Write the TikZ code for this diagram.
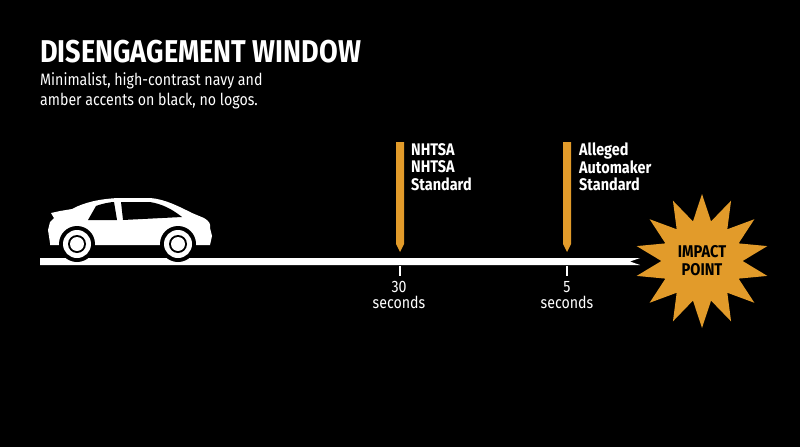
\documentclass[tikz,border=0pt]{standalone}
\usepackage{fontspec}
\setmainfont{Fira Sans}[FakeStretch=0.86]
\usetikzlibrary{shapes.geometric}
\definecolor{amber}{HTML}{E29B2A}
\begin{document}
\begin{tikzpicture}[x=1pt,y=-1pt,
  lbl/.style={font=\bfseries\fontsize{16.8}{17.5}\selectfont,text=white,align=left,anchor=north west,inner sep=0pt},
  sec/.style={font=\fontsize{16.5}{16}\selectfont,text=white,align=center,anchor=north,inner sep=0pt},
  bar/.style={fill=amber}]
\fill[black] (0,0) rectangle (800,447);
\useasboundingbox (0,0) rectangle (800,447);
\node[anchor=west,inner sep=0pt,text=white,font=\bfseries\fontsize{31.5}{33}\selectfont] (title) at (40,52) {DISENGAGEMENT WINDOW};
\node[anchor=north west,inner sep=0pt,text=white,align=left,font=\fontsize{16.5}{20}\selectfont] (sub) at (40,72) {Minimalist, high-contrast navy and\\amber accents on black, no logos.};
% timeline
\fill[white] (40,258) -- (640,258) -- (630,261.5) -- (640,265) -- (40,265) -- cycle;
% car
\fill[white] (50,243) -- (48,230) -- (50,222) -- (54,218) -- (51,213) -- (60,211) -- (72,209)
  .. controls (85,202) and (100,199) .. (118,198) -- (150,198)
  .. controls (165,199) and (180,207) .. (192,213) -- (204,218) .. controls (209,221) and (211,224) .. (210,228)
  -- (212,236) -- (210,245) -- (50,245) -- cycle;
\fill[black] (77,244) circle (18) (178,244) circle (18);
\fill[black] (88,220) -- (96,206) .. controls (104,203) and (112,202) .. (114,202) -- (117,220) -- cycle;
\fill[black] (121,202) -- (150,202) .. controls (162,204) and (172,209) .. (182,217) -- (123,220) -- cycle;
\foreach \cx in {77,178}{
  \fill[white] (\cx,244) circle (14);
  \fill[black] (\cx,244) circle (9);
  \fill[white] (\cx,244) circle (7);}
% markers
\foreach \mx in {400,567}{
  \fill[amber] (\mx-4,142) -- (\mx+4,142) -- (\mx+4,244) -- (\mx,252) -- (\mx-4,244) -- cycle;
  \draw[white,line width=1.4] (\mx,266) -- (\mx,276);}
\node[lbl] (nhtsa) at (411,143) {NHTSA\\NHTSA\\Standard};
\node[lbl] (auto) at (579,143) {Alleged\\Automaker\\Standard};
\node[sec] (s30) at (399,281) {30\\seconds};
\node[sec] (s5) at (567,281) {5\\seconds};
% impact
\node[star,star points=14,star point ratio=1.65,fill=amber,minimum size=134,inner sep=0pt,
  font=\bfseries\fontsize{17}{18}\selectfont,align=center,text=black] (impact) at (702,261) {IMPACT\\POINT};
\end{tikzpicture}
\end{document}
